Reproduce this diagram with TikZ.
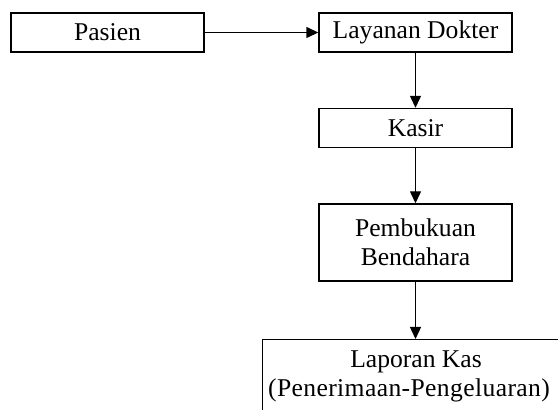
\documentclass[tikz,border=0pt]{standalone}
\usepackage{fontspec}
\setmainfont{Liberation Serif}
\usetikzlibrary{arrows.meta}
\tikzset{
	kotak/.style={draw, line width=0.7pt, minimum width=96.5pt, minimum height=19.5pt, inner sep=0pt, align=center, font=\fontsize{12.8}{14.5}\selectfont},
	panah/.style={-{Triangle[length=6pt,width=5.5pt]}, line width=0.7pt}
}
\begin{document}
\begin{tikzpicture}[x=0.5pt,y=-0.5pt]
	\useasboundingbox (0,0) rectangle (558,410);
	\node[kotak] (pasien) at (107.5,32.5) {Pasien};
	\node[kotak] (dokter) at (415.5,32.5) {Layanan Dokter};
	\node[kotak] (kasir) at (415.5,128) {Kasir};
	\node[kotak, minimum height=38.5pt] (bendahara) at (415.5,242.5) {Pembukuan\\Bendahara};
	\node[kotak, minimum width=170pt, minimum height=37pt, anchor=north west] (laporan) at (262,339) {};
	\node[font=\fontsize{12.8}{14.5}\selectfont, align=center, inner sep=0pt] (isi) at (409,376) {\hspace*{7pt}Laporan Kas\\\addfontfeature{LetterSpace=1.5}(Penerimaan-Pengeluaran)};
	\draw[panah] (pasien) -- (dokter);
	\draw[panah] (dokter) -- (kasir);
	\draw[panah] (kasir) -- (bendahara);
	\draw[panah] (bendahara) -- (bendahara |- laporan.north);
\end{tikzpicture}
\end{document}
